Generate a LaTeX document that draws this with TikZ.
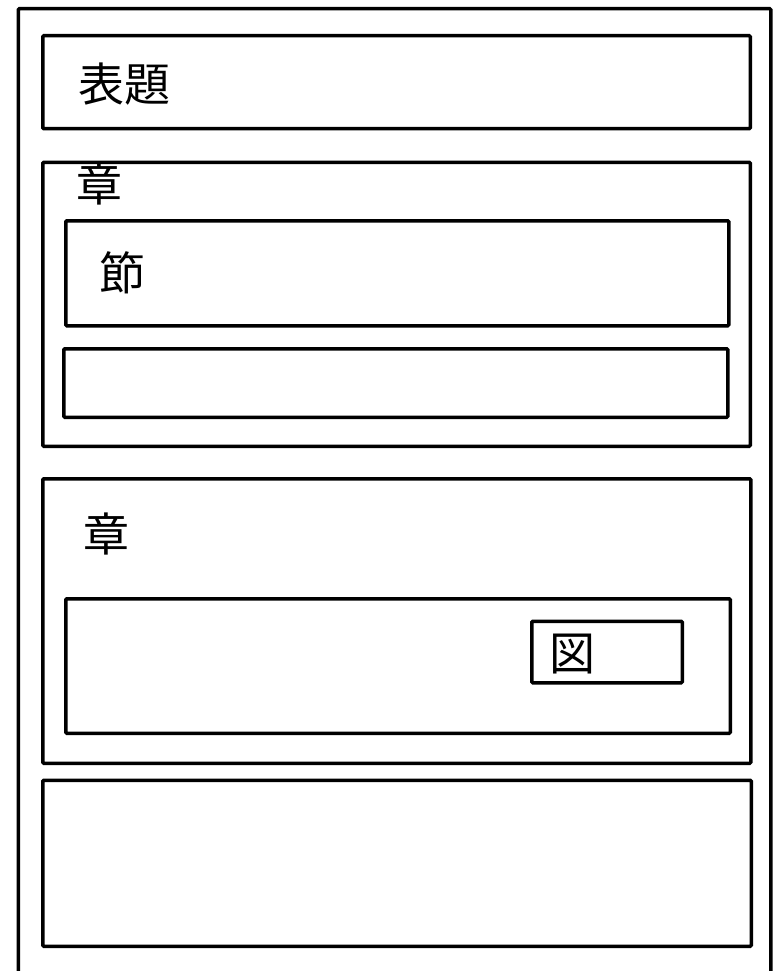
\documentclass[tikz,border=0pt]{standalone}
\usepackage{fontspec}
\newfontfamily\cjk{Noto Sans CJK JP}
\usetikzlibrary{positioning}

\begin{document}
\begin{tikzpicture}[x=1pt,y=-1pt]
\tikzstyle{frame}=[draw,black,line width=3.5pt,rounded corners=1pt,inner sep=0pt,anchor=north west]
\tikzstyle{label}=[inner sep=0pt,font=\cjk\fontsize{46}{46}\selectfont]
\useasboundingbox (0,0) rectangle (774,971);
\begin{scope}
\clip (0,0) rectangle (774,971);
\node[frame,minimum width=752.5pt,minimum height=985pt](page) at (16.5,7) {};
\end{scope}

\node[frame,minimum width=707.5pt,minimum height=93pt](title) at (41,34) {};
\node[frame,minimum width=707.5pt,minimum height=284pt](chapA) at (41,160.5) {};
\node[frame,minimum width=663pt,minimum height=105pt](sect) at (64,219) {};
\node[frame,minimum width=664pt,minimum height=68.5pt](blank) at (62,347) {};
\node[frame,minimum width=708pt,minimum height=284.5pt](chapB) at (41,477) {};
\node[frame,minimum width=664.5pt,minimum height=134.5pt](body) at (64,597) {};
\node[frame,minimum width=150.5pt,minimum height=61.5pt](fig) at (530,619.5) {};
\node[frame,minimum width=708.5pt,minimum height=166pt](foot) at (41,778.5) {};

\node[label](titletxt) at (124,84) {表題};
\node[label](chapAtxt) at (99,184) {章};
\node[label](secttxt) at (122,273) {節};
\node[label](chapBtxt) at (106,534) {章};
\node[label](figtxt) at (572,654) {図};
\end{tikzpicture}
\end{document}
